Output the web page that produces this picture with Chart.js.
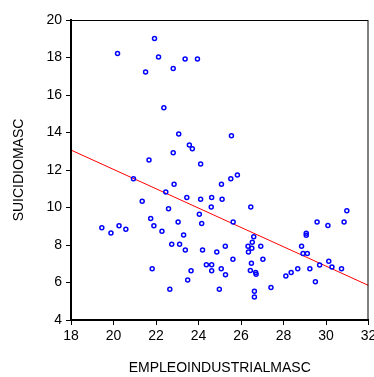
<!DOCTYPE html>
<html>
<head>
<meta charset="utf-8">
<script src="https://cdn.jsdelivr.net/npm/chart.js@4.4.1/dist/chart.umd.min.js"></script>
<style>
  body { margin: 0; background: #fff; }
</style>
</head>
<body>
<canvas id="myChart" width="374" height="377"></canvas>
<script>
// datos
const empleoIndustrial = [
  20.19, 21.93, 22.12, 21.51, 22.81, 23.37, 23.95, 22.37, 23.07, 23.57,
  23.71, 22.81, 21.67, 24.10, 25.55, 20.94, 22.85, 22.46, 23.45, 24.10,
  24.62, 24.60, 21.35, 22.59, 24.04, 24.15, 23.04, 21.75, 21.90, 22.28,
  23.30, 19.45, 19.88, 20.26, 20.58, 22.74, 23.11, 23.38, 24.19, 24.86,
  21.82, 23.65, 24.37, 24.62, 24.62, 23.49, 22.65, 24.98, 25.08, 25.52,
  25.83, 25.11, 26.46, 25.63, 26.60, 26.53, 26.33, 26.51, 26.35, 26.93,
  25.26, 25.62, 27.03, 26.49, 25.07, 25.27, 26.44, 26.69, 26.71, 26.63,
  26.63, 27.41, 28.11, 28.36, 28.67, 29.24, 29.50, 28.85, 28.92, 29.12,
  29.07, 29.07, 29.58, 30.09, 29.70, 30.13, 30.28, 30.73, 30.85, 30.98
];
const suicidioMasc = [
  18.22, 19.02, 18.03, 17.23, 17.42, 17.92, 17.92, 15.32, 13.92, 13.33,
  13.14, 12.92, 12.53, 12.32, 13.83, 11.54, 11.24, 10.83, 10.54, 10.44,
  10.54, 10.03, 10.33, 9.94, 9.64, 9.15, 9.23, 9.42, 9.03, 8.74,
  8.53, 8.92, 8.64, 9.03, 8.84, 8.04, 8.04, 7.73, 7.73, 7.63,
  6.74, 6.63, 6.95, 6.95, 6.63, 6.13, 5.64, 5.64, 11.24, 11.54,
  11.73, 10.44, 10.03, 9.23, 8.44, 8.15, 7.94, 7.83, 7.63, 7.94,
  7.94, 7.24, 7.24, 7.03, 6.74, 6.42, 6.64, 6.54, 6.44, 5.54,
  5.23, 5.74, 6.35, 6.54, 6.74, 6.74, 6.04, 7.94, 7.55, 7.55,
  8.63, 8.52, 9.23, 9.04, 6.93, 7.13, 6.83, 6.74, 9.23, 9.83
];
const xTickLabels = [18, 20, 22, 24, 26, 28, 30, 32];
const yTickLabels = [4, 6, 8, 10, 12, 14, 16, 18, 20];

// recta de minimos cuadrados
const n = empleoIndustrial.length;
const mx = empleoIndustrial.reduce((a, b) => a + b, 0) / n;
const my = suicidioMasc.reduce((a, b) => a + b, 0) / n;
let sxy = 0, sxx = 0;
for (let i = 0; i < n; i++) {
  sxy += (empleoIndustrial[i] - mx) * (suicidioMasc[i] - my);
  sxx += (empleoIndustrial[i] - mx) ** 2;
}
const pendiente = sxy / sxx;
const intercepto = my - pendiente * mx;
const xMin = xTickLabels[0], xMax = xTickLabels[xTickLabels.length - 1];

const puntos = empleoIndustrial.map((x, i) => ({ x: x, y: suicidioMasc[i] }));
const recta = [xMin, xMax].map(x => ({ x: x, y: intercepto + pendiente * x }));

const fuente = { family: "'Liberation Sans', Arial, sans-serif", size: 14 };

// marco completo alrededor del area
const marco = {
  id: 'marco',
  afterDraw(chart) {
    const a = chart.chartArea, c = chart.ctx;
    c.save();
    c.strokeStyle = '#000';
    c.lineWidth = 1;
    c.strokeRect(a.left + 0.5, a.top + 0.5, a.right - a.left - 1, a.bottom - a.top);
    c.restore();
  }
};

let ctx = document.getElementById('myChart').getContext('2d');
let chart = new Chart(ctx, {
  type: 'scatter',
  data: {
    datasets: [{
      label: 'SUICIDIOMASC',
      data: puntos,
      borderColor: '#0000ff',
      backgroundColor: 'rgba(0,0,0,0)',
      pointRadius: 2,
      pointBorderWidth: 1.5,
      order: 1
    }, {
      type: 'line',
      label: 'ajuste',
      data: recta,
      borderColor: '#ff0000',
      borderWidth: 1,
      pointRadius: 0,
      fill: false,
      order: 2
    }]
  },
  options: {
    responsive: false,
    animation: false,
    layout: { padding: { top: 20, right: 4, left: 0, bottom: 0 } },
    plugins: { legend: { display: false }, tooltip: { enabled: false } },
    scales: {
      x: {
        type: 'linear',
        min: xMin,
        max: xMax,
        afterBuildTicks(s) { s.ticks = xTickLabels.map(v => ({ value: v })); },
        afterFit(s) { s.height = 57; s.paddingLeft = 0; s.paddingRight = 0; },
        grid: { drawOnChartArea: false, drawTicks: true, tickLength: 5, color: '#000' },
        border: { color: '#000', width: 2 },
        ticks: { color: '#000', font: fuente, padding: 3, maxRotation: 0, autoSkip: false },
        title: { display: true, text: 'EMPLEOINDUSTRIALMASC', color: '#000', font: fuente, padding: { top: 0, bottom: 0 } }
      },
      y: {
        min: yTickLabels[0],
        max: yTickLabels[yTickLabels.length - 1],
        afterBuildTicks(s) { s.ticks = yTickLabels.map(v => ({ value: v })); },
        afterFit(s) { s.width = 71; s.paddingTop = 0; s.paddingBottom = 0; },
        grid: { drawOnChartArea: false, drawTicks: true, tickLength: 5, color: '#000' },
        border: { color: '#000', width: 2 },
        ticks: { color: '#000', font: fuente, padding: 4, autoSkip: false },
        title: { display: true, text: 'SUICIDIOMASC', color: '#000', font: fuente, padding: { top: 11, bottom: 0 } }
      }
    }
  },
  plugins: [marco]
});
</script>
</body>
</html>
